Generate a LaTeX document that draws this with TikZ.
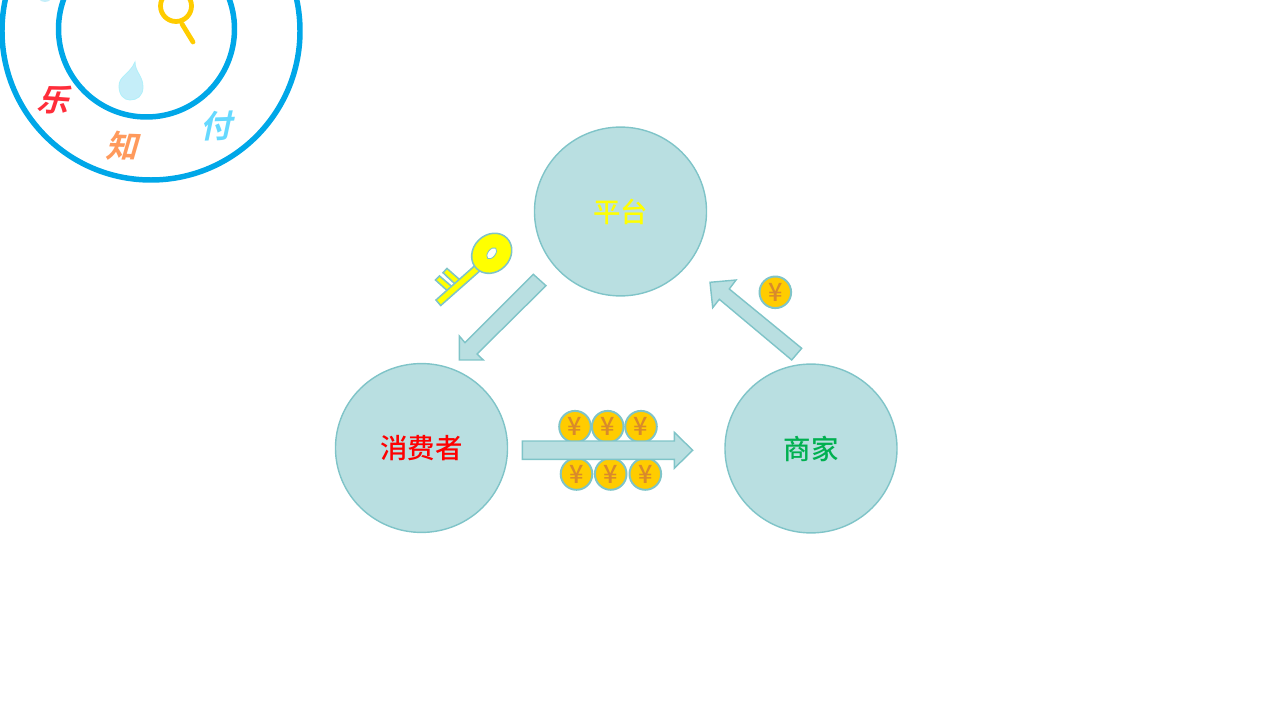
\documentclass[tikz,border=0pt]{standalone}
\usepackage{fontspec}
\usetikzlibrary{shapes.geometric}
\newfontfamily\cjk{Noto Sans CJK SC}
\newfontfamily\cjkslant[FakeSlant=0.25]{Noto Sans CJK SC Bold}
\newfontfamily\cjkmid{Noto Sans CJK SC Medium}
\definecolor{tealfill}{HTML}{B9DFE1}
\definecolor{tealline}{HTML}{7FC4C8}
\definecolor{coinfill}{HTML}{FFCC00}
\definecolor{coinmark}{HTML}{D98A2B}
\definecolor{ringblue}{HTML}{00A7E8}
\definecolor{dropblue}{HTML}{C5EEF9}
\definecolor{salmon}{HTML}{FF9A5C}
\definecolor{skyblue}{HTML}{66D9FF}
\definecolor{leafgreen}{HTML}{00B050}
\definecolor{keyyellow}{HTML}{FFFF00}
\definecolor{brightred}{HTML}{FF0000}
\definecolor{lered}{HTML}{FF2D3A}
\tikzset{
	party/.style={ellipse, draw=tealline, fill=tealfill, line width=1pt, minimum width=4.3cm, minimum height=4.22cm, inner sep=0pt, font=\cjkmid\fontsize{19.5}{19.5}\selectfont},
	coin/.style={circle, draw=tealline, fill=coinfill, line width=1.4pt, minimum size=0.79cm, inner sep=0pt, text=coinmark, font=\cjkmid\fontsize{18}{18}\selectfont},
	flow/.style={draw=tealline, fill=tealfill, line width=1pt, line join=miter},
	ring/.style={draw=ringblue, line width=3.9pt},
	ringtext/.style={font=\cjkslant\fontsize{22.5}{22.5}\selectfont, inner sep=0pt},
	keypart/.style={draw=tealline, fill=keyyellow, line width=1.1pt},
}
\begin{document}
\begin{tikzpicture}[x=0.025cm,y=-0.025cm]
	\useasboundingbox (0,0) rectangle (1280,720);
	\clip (0,0) rectangle (1280,720);
	% corner badge
	\draw[ring] (151,31) circle(149);
	\draw[ring] (146.5,29) circle(88);
	\fill[fill=dropblue] (45,-6) circle(8);
	\draw[draw=coinfill, line width=3.4pt] (176,6) circle(15.5);
	\draw[draw=coinfill, line width=3.4pt, line cap=round] (182,24) -- (193,42);
	\draw[draw=dropblue!90!cyan, fill=dropblue, line width=0.6pt] (135,62) .. controls (135,72) and (143,76) .. (143,87) .. controls (143,96) and (137,100) .. (130,100) .. controls (124,100) and (119,95) .. (119,86) .. controls (119,76) and (130,74) .. (135,62) -- cycle;
	\node[ringtext, text=lered, rotate=-4] (le) at (53,100) {乐};
	\node[ringtext, text=salmon, rotate=-2] (zhi) at (122,146) {知};
	\node[ringtext, text=skyblue, rotate=2] (fu) at (215.5,126) {付};
	% parties
	\node[party, text=keyyellow] (platform) at (620.5,211.5) {平台};
	\node[party, text=brightred] (consumer) at (421.5,448) {消费者};
	\node[party, text=leafgreen] (merchant) at (811,448.5) {商家};
	% money
	\node[coin] (coinA) at (575,426.7) {¥};
	\node[coin] (coinB) at (607.7,426.7) {¥};
	\node[coin] (coinC) at (641,426.7) {¥};
	\node[coin] (coinD) at (576.5,474) {¥};
	\node[coin] (coinE) at (610.7,474) {¥};
	\node[coin] (coinF) at (645.3,474) {¥};
	\node[coin] (coinG) at (775.3,292.3) {¥};
	% flows
	\draw[flow] (546,285.7) -- (477,354) -- (483.3,360) -- (459.3,360) -- (459.3,336) -- (465,342.7) -- (533.3,274.3) -- cycle;
	\draw[flow] (522.3,441) -- (522.3,459.3) -- (674.3,459.3) -- (674.3,468.3) -- (692.7,450.3) -- (674.3,432.3) -- (674.3,441) -- cycle;
	\draw[flow] (710,282.3) -- (736,280) -- (729.3,289) -- (801.7,348.3) -- (791.7,360) -- (719.3,299.3) -- (712.7,307.7) -- cycle;
	% key
	\draw[keypart] (435.5,280) -- (439.5,276) -- (453.5,288) -- (449.3,292.5) -- cycle;
	\draw[keypart] (443,272.7) -- (447,268.5) -- (460,280) -- (455.5,284.5) -- cycle;
	\draw[keypart] (479.3,261.7) -- (483.5,267.7) -- (440.7,305.5) -- (436,300) -- cycle;
	\draw[keypart, rotate around={45:(491.7,253.3)}] (491.7,253.3) ellipse (21.5 and 18.5);
	\draw[draw=tealline, fill=white, line width=0.6pt, rotate around={52:(491.7,253.3)}] (491.7,253.3) ellipse (6.5 and 3.7);
\end{tikzpicture}
\end{document}
